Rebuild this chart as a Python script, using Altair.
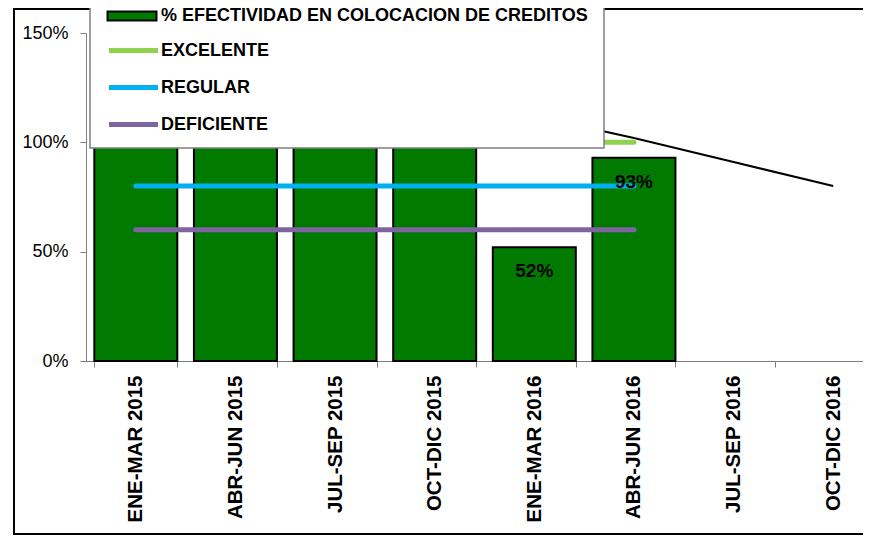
import altair as alt
import pandas as pd

CATEGORIAS = ["ENE-MAR 2015", "ABR-JUN 2015", "JUL-SEP 2015", "OCT-DIC 2015",
              "ENE-MAR 2016", "ABR-JUN 2016", "JUL-SEP 2016", "OCT-DIC 2016"]
SERIE_BARRAS = "% EFECTIVIDAD EN COLOCACION DE CREDITOS"
EFECTIVIDAD = [1.45, 1.48, 1.42, 1.46, 0.52, 0.93, None, None]
EXCELENTE = [1.0, 1.0, 1.0, 1.0, 1.0, 1.0, None, None]
REGULAR = [0.8, 0.8, 0.8, 0.8, 0.8, 0.8, None, None]
DEFICIENTE = [0.6, 0.6, 0.6, 0.6, 0.6, 0.6, None, None]
TENDENCIA = [None, None, None, None, 1.12, 1.02, 0.91, 0.80]
NOMBRES_LINEAS = ["EXCELENTE", "REGULAR", "DEFICIENTE"]
COLORES_LINEAS = ["#92D050", "#00B0F0", "#8064A2"]
Y_TICKS = [0, 0.5, 1.0, 1.5]

FONT = "Liberation Sans"

bars_df = pd.DataFrame({"cat": CATEGORIAS, "valor": EFECTIVIDAD, "serie": SERIE_BARRAS}).dropna()
rows = []
for nombre, serie in zip(NOMBRES_LINEAS, [EXCELENTE, REGULAR, DEFICIENTE]):
    for c, v in zip(CATEGORIAS, serie):
        if v is not None:
            rows.append({"cat": c, "valor": v, "serie": nombre})
lines_df = pd.DataFrame(rows)
trend_df = pd.DataFrame({"cat": CATEGORIAS, "valor": TENDENCIA}).dropna()

x_enc = alt.X(
    "cat:N", sort=CATEGORIAS, title=None,
    scale=alt.Scale(domain=CATEGORIAS, range=[0, 797], paddingInner=0.167, paddingOuter=0.0835),
    axis=alt.Axis(labelAngle=-90, labelFont=FONT, labelFontSize=20.5, labelFontWeight="bold",
                  labelColor="black", labelPadding=8, tickBand="extent", tickSize=6,
                  tickColor="#808080", domainColor="#808080", labelLimit=0),
)
y_enc = alt.Y(
    "valor:Q", title=None,
    scale=alt.Scale(domain=[0, 1.5], nice=False),
    axis=alt.Axis(values=Y_TICKS, format=".0%", grid=False, labelFont=FONT, labelFontSize=18,
                  labelColor="black", labelPadding=12, tickSize=6, tickColor="#808080",
                  domainColor="#808080"),
)

one = pd.DataFrame({"d": [0]})
border_left = alt.Chart(one).mark_rect(color="black").encode(
    x=alt.value(-73), x2=alt.value(-71), y=alt.value(-25), y2=alt.value(502))
border_top = alt.Chart(one).mark_rect(color="black").encode(
    x=alt.value(-73), x2=alt.value(820), y=alt.value(-25), y2=alt.value(-23))
border_bottom = alt.Chart(one).mark_rect(color="black").encode(
    x=alt.value(-73), x2=alt.value(820), y=alt.value(500), y2=alt.value(502))

bars = alt.Chart(bars_df).mark_bar(stroke="black", strokeWidth=2).encode(
    x=x_enc, y=y_enc,
    fill=alt.Fill("serie:N", scale=alt.Scale(domain=[SERIE_BARRAS], range=["#007A00"]),
                  legend=alt.Legend(orient="none", legendX=20.5, legendY=-42.5, title=None,
                                    symbolType="M-1,-0.18H1V0.18H-1Z", symbolSize=2401,
                                    symbolStrokeColor="black", symbolStrokeWidth=2,
                                    labelFont=FONT, labelFontSize=18, labelFontWeight="bold",
                                    labelColor="black", labelOffset=3.5, padding=0, labelLimit=0)),
)

lines = alt.Chart(lines_df).mark_line(strokeWidth=5, strokeCap="round").encode(
    x=x_enc, y=y_enc,
    stroke=alt.Stroke("serie:N", sort=NOMBRES_LINEAS,
                      scale=alt.Scale(domain=NOMBRES_LINEAS, range=COLORES_LINEAS),
                      legend=alt.Legend(orient="none", legendX=20.5, legendY=-9.5, title=None,
                                        symbolType="stroke", symbolSize=2401, symbolStrokeWidth=5,
                                        labelFont=FONT, labelFontSize=18, labelFontWeight="bold",
                                        labelColor="black", labelOffset=0.5, padding=0,
                                        rowPadding=-14, labelLimit=0)),
    detail="serie:N",
)

trend = alt.Chart(trend_df).mark_line(color="black", strokeWidth=2).encode(x=x_enc, y=y_enc)

labels = alt.Chart(bars_df).mark_text(
    font=FONT, fontSize=19, fontWeight="bold", color="black", baseline="middle", dy=24
).encode(x=x_enc, y=y_enc, text=alt.Text("valor:Q", format=".0%"))

box = alt.Chart(one).mark_rect(
    fill="white", stroke="#7f7f7f", strokeWidth=1.5
).encode(x=alt.value(4), x2=alt.value(518), y=alt.value(-30), y2=alt.value(115))

chart = alt.layer(border_left, border_top, border_bottom, bars, lines, trend, labels, box).properties(
    width=777, height=328,
    autosize=alt.AutoSizeParams(type="none"),
    padding={"left": 78, "top": 25, "right": 0, "bottom": 174},
).configure_view(strokeWidth=0)

chart.save("out.html", embed_options={"renderer": "svg", "actions": False})
